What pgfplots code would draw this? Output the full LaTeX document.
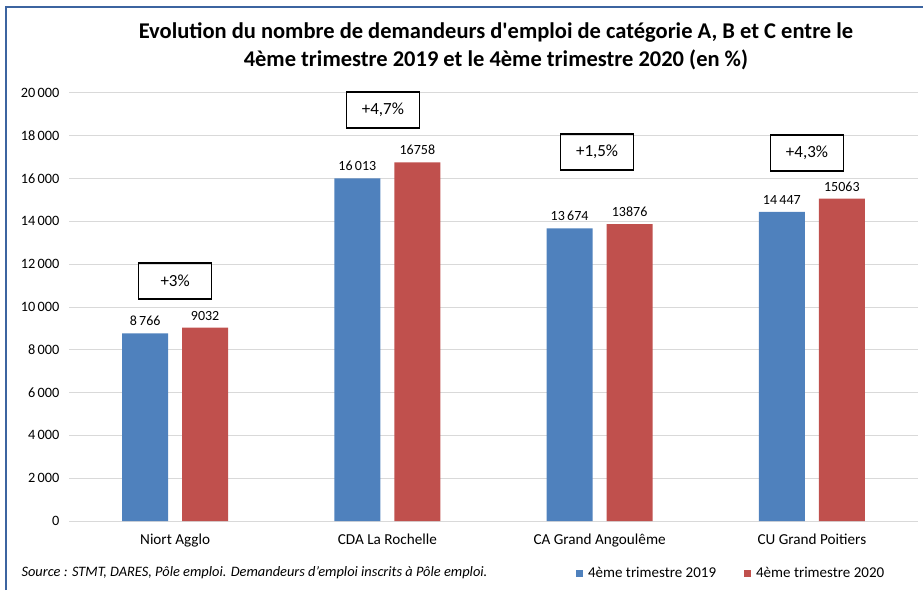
\documentclass[border=0pt]{standalone}
\usepackage{pgfplots}
\pgfplotsset{compat=1.18}
\usepackage{fontspec}
\setmainfont{Carlito}
\definecolor{bblue}{HTML}{4F81BD}
\definecolor{bred}{HTML}{C0504D}
\definecolor{frm}{HTML}{3C64A0}
\definecolor{grd}{HTML}{D9D9D9}
\begin{document}
\begin{tikzpicture}
\useasboundingbox (0pt,0pt) rectangle (923pt,590pt);
\draw[frm, line width=2pt] (6pt,0pt) -- (6pt,583pt) -- (923pt,583pt);
\node[font=\bfseries\fontsize{22.5}{28}\selectfont, align=center] at (496pt,544pt)
 {Evolution du nombre de demandeurs d\textquotesingle emploi de catégorie A, B et C entre le\\4ème trimestre 2019 et le 4ème trimestre 2020 (en \%)};
\node[anchor=west, font=\itshape\fontsize{14.4}{16}\selectfont] at (18pt,17pt)
 {Source : STMT, DARES, Pôle emploi. Demandeurs d’emploi inscrits à Pôle emploi.};
\begin{axis}[
 at={(69pt,69pt)}, anchor=south west,
 scale only axis, width=849pt, height=428pt,
 xmin=-0.5, xmax=3.5, ymin=0, ymax=20000,
 axis line style={draw=none},
 major tick length=0pt,
 ymajorgrids, grid style={grd, line width=1pt},
 ytick={0,2000,...,20000},
 scaled y ticks=false,
 xtick={0,1,2,3},
 xticklabels={Niort Agglo, CDA La Rochelle, CA Grand Angoulême, CU Grand Poitiers},
 /pgf/number format/assume math mode=true,
 /pgf/number format/1000 sep={\,},
 yticklabel style={font=\fontsize{14.3}{16}\selectfont, xshift=-6pt},
 xticklabel style={font=\fontsize{15.2}{17}\selectfont, yshift=-9pt},
 ybar=14pt, bar width=46pt,
 point meta=explicit symbolic,
 nodes near coords={\pgfplotspointmeta},
 nodes near coords style={font=\fontsize{14}{16}\selectfont, anchor=south, yshift=4pt},
 legend columns=2,
 legend style={at={(0.597,-0.1215)}, anchor=west, draw=none, inner sep=0pt,
   font=\fontsize{15}{17}\selectfont,
   /tikz/every odd column/.append style={column sep=3pt},
   /tikz/every even column/.append style={column sep=26pt}},
 legend image code/.code={\fill[#1] (0pt,-3.5pt) rectangle (7pt,3.5pt);},
 clip=false,
]
\addplot[fill=bblue, draw=none] coordinates {(0,8766)[8\,766] (1,16013)[16\,013] (2,13674)[13\,674] (3,14447)[14\,447]};
\addplot[fill=bred, draw=none] coordinates {(0,9032)[9032] (1,16758)[16758] (2,13876)[13876] (3,15063)[15063]};
\legend{4ème trimestre 2019, 4ème trimestre 2020}
\begin{scope}[every node/.style={draw, line width=1.2pt, minimum width=73pt, minimum height=36pt, font=\fontsize{17}{20}\selectfont}]
\node at (axis cs:0,11215) {+3\%};
\node at (axis cs:0.979,19206) {+4,7\%};
\node at (axis cs:1.988,17243) {+1,5\%};
\node at (axis cs:2.977,17196) {+4,3\%};
\end{scope}
\end{axis}
\end{tikzpicture}
\end{document}
